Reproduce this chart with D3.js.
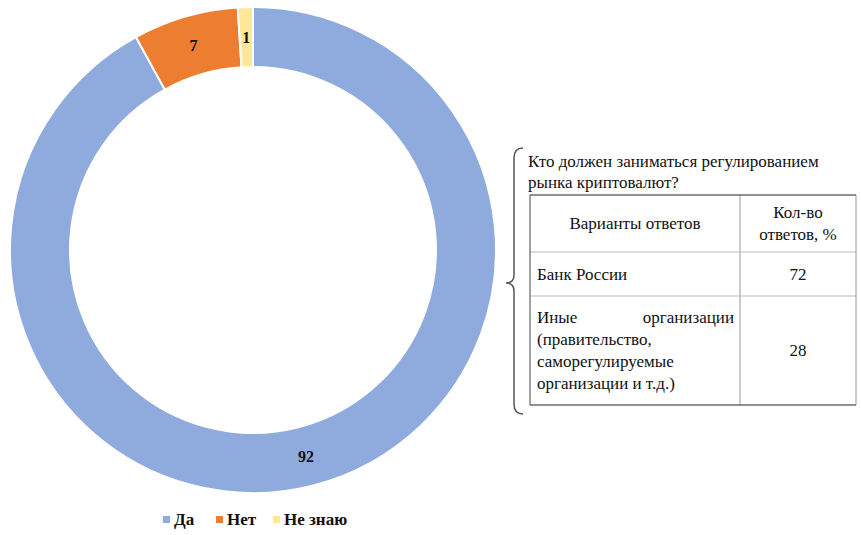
<!DOCTYPE html>
<html lang="ru">
<head>
<meta charset="utf-8">
<script src="https://cdn.jsdelivr.net/npm/d3@7"></script>
<style>
  svg text { font-family: "Liberation Serif", "Times New Roman", serif !important; }
</style>
</head>
<body style="margin:0">
<script>
const w = 861;
const h = 535;
const fontCss = "font-family: 'Liberation Serif', 'Times New Roman', serif !important;";

// данные опроса
const categories = ["Да", "Нет", "Не знаю"];
const values = [92, 7, 1];
const colors = ["#8faadc", "#ed7d31", "#ffe699"];

const tableTitle = ["Кто должен заниматься регулированием", "рынка криптовалют?"];
const tableHeader = [["Варианты ответов"], ["Кол-во", "ответов, %"]];
const tableAnswers = [["Банк России"], ["Иные организации", "(правительство,", "саморегулируемые", "организации и т.д.)"]];
const tableValues = [72, 28];

const svg = d3.select("body").append("svg")
  .attr("width", w).attr("height", h);

// кольцевая диаграмма
const cx = 253, cy = 250;
const outerR = 243, innerR = 183;

const pie = d3.pie().sort(null).value(d => d)(values);
const arc = d3.arc().innerRadius(innerR).outerRadius(outerR);

const g = svg.append("g").attr("transform", "translate(" + cx + "," + cy + ")");

g.selectAll("path")
  .data(pie)
  .enter()
  .append("path")
  .attr("d", arc)
  .attr("fill", (d, i) => colors[i])
  .attr("stroke", "#fff")
  .attr("stroke-width", 2);

// подписи значений
g.selectAll("text.val")
  .data(pie)
  .enter()
  .append("text")
  .attr("class", "val")
  .attr("x", d => arc.centroid(d)[0])
  .attr("y", d => arc.centroid(d)[1])
  .attr("dy", "0.35em")
  .attr("text-anchor", "middle")
  .attr("style", fontCss + " font-size: 16px; font-weight: bold; fill: #111;")
  .text(d => d.data);

// легенда
const legendX = [163, 216, 273];
const legend = svg.append("g");
categories.forEach((c, i) => {
  legend.append("rect")
    .attr("x", legendX[i])
    .attr("y", 516)
    .attr("width", 7)
    .attr("height", 7)
    .attr("fill", colors[i]);
  legend.append("text")
    .attr("x", legendX[i] + 11)
    .attr("y", 525)
    .attr("style", fontCss + " font-size: 17px; font-weight: bold; fill: #111;")
    .text(c);
});

// фигурная скобка
const bx = 514, bTop = 148, bBot = 414, bMid = 283;
svg.append("path")
  .attr("d", "M" + (bx + 9) + "," + bTop +
    " Q" + bx + "," + bTop + " " + bx + "," + (bTop + 10) +
    " L" + bx + "," + (bMid - 8) +
    " Q" + bx + "," + bMid + " " + (bx - 8) + "," + bMid +
    " Q" + bx + "," + bMid + " " + bx + "," + (bMid + 8) +
    " L" + bx + "," + (bBot - 10) +
    " Q" + bx + "," + bBot + " " + (bx + 9) + "," + bBot)
  .attr("fill", "none")
  .attr("stroke", "#555")
  .attr("stroke-width", 1.5);

// заголовок таблицы
tableTitle.forEach((t, i) => {
  svg.append("text")
    .attr("x", 528)
    .attr("y", 167 + i * 21)
    .attr("style", fontCss + " font-size: 17px; fill: #111;")
    .text(t);
});

// таблица
const tx0 = 530, tx1 = 740, tx2 = 856;
const rowY = [195, 252, 296, 405];
const tbl = svg.append("g");

// внутренние линии
[rowY[1], rowY[2]].forEach(y => {
  tbl.append("line").attr("x1", tx0).attr("x2", tx2).attr("y1", y).attr("y2", y)
    .attr("stroke", "#bbb").attr("stroke-width", 1);
});
tbl.append("line").attr("x1", tx1).attr("x2", tx1).attr("y1", rowY[0]).attr("y2", rowY[3])
  .attr("stroke", "#bbb").attr("stroke-width", 1.5);
tbl.append("line").attr("x1", tx2).attr("x2", tx2).attr("y1", rowY[0]).attr("y2", rowY[3])
  .attr("stroke", "#999").attr("stroke-width", 1);
// внешние линии
tbl.append("line").attr("x1", tx0).attr("x2", tx2).attr("y1", rowY[0]).attr("y2", rowY[0])
  .attr("stroke", "#222").attr("stroke-width", 1.2);
tbl.append("line").attr("x1", tx0).attr("x2", tx2).attr("y1", rowY[3]).attr("y2", rowY[3])
  .attr("stroke", "#222").attr("stroke-width", 1.2);
tbl.append("line").attr("x1", tx0).attr("x2", tx0).attr("y1", rowY[0]).attr("y2", rowY[3])
  .attr("stroke", "#444").attr("stroke-width", 1);

const lh = 22;

function addText(x, y, t, anchor) {
  return tbl.append("text")
    .attr("x", x)
    .attr("y", y)
    .attr("dy", "0.35em")
    .attr("text-anchor", anchor || "start")
    .attr("style", fontCss + " font-size: 17px; fill: #111;")
    .text(t);
}

// шапка
function centeredLines(lines, x, yMid) {
  const y0 = yMid - (lines.length - 1) * lh / 2;
  lines.forEach((t, i) => addText(x, y0 + i * lh, t, "middle"));
}
centeredLines(tableHeader[0], (tx0 + tx1) / 2, (rowY[0] + rowY[1]) / 2);
centeredLines(tableHeader[1], (tx1 + tx2) / 2, (rowY[0] + rowY[1]) / 2);

// строки
tableAnswers.forEach((lines, r) => {
  const yMid = (rowY[r + 1] + rowY[r + 2]) / 2;
  const y0 = yMid - (lines.length - 1) * lh / 2;
  lines.forEach((t, i) => {
    const words = t.split(" ");
    if (r === 1 && i === 0 && words.length > 1) {
      // выравнивание по ширине первой строки
      addText(tx0 + 7, y0, words[0]);
      addText(tx1 - 6, y0, words[1], "end");
    } else {
      addText(tx0 + 7, y0 + i * lh, t);
    }
  });
  centeredLines([String(tableValues[r])], (tx1 + tx2) / 2, yMid);
});
</script>
</body>
</html>
